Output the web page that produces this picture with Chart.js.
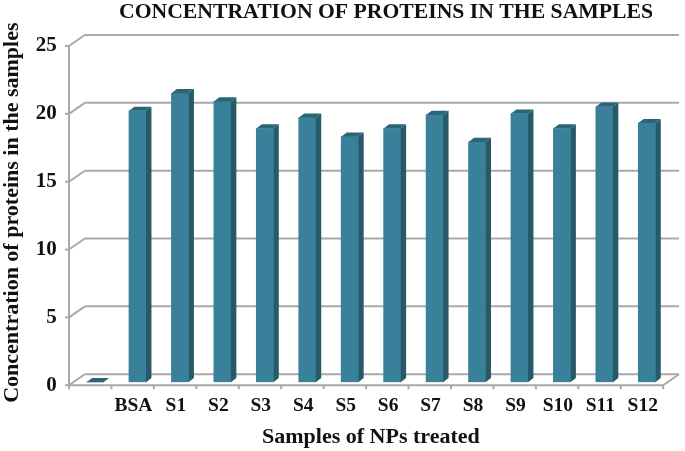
<!DOCTYPE html>
<html><head><meta charset="utf-8">
<style>html,body{margin:0;padding:0;background:#fff}#w{width:685px;height:451px}</style>
<script src="https://cdn.jsdelivr.net/npm/chart.js@4"></script></head>
<body><div id="w"><canvas id="c" width="685" height="451"></canvas></div>
<script>
const categories = ["", "BSA", "S1", "S2", "S3", "S4", "S5", "S6", "S7", "S8", "S9", "S10", "S11", "S12"];
const concentration = [0, 20, 21.3, 20.7, 18.7, 19.5, 18.1, 18.7, 19.7, 17.7, 19.8, 18.7, 20.3, 19.1];
const yTicks = [0, 5, 10, 15, 20, 25];
const titleText = "CONCENTRATION OF PROTEINS IN THE SAMPLES";
const xTitleText = "Samples of NPs treated";
const yTitleText = "Concentration of proteins in the samples";
const serif = "'Liberation Serif','Times New Roman',serif";
const FRONT = {dx:-4.8, dy:3}, BACK = {dx:11, dy:-8}, DEPTH = {dx:5.5, dy:-4.2};
const GRID = "#a9a9a9";

const depthPlugin = {
  id:"depth",
  afterLayout(chart){
    const t = chart.titleBlock;
    t.left += 52; t.right += 52; t.top -= 1; t.bottom -= 1;
  },
  beforeDatasetsDraw(chart){
    const {ctx, chartArea:a, scales:{x,y}} = chart;
    ctx.save();
    ctx.strokeStyle = GRID; ctx.lineWidth = 2; ctx.lineCap = "butt";
    const line = (x1,y1,x2,y2)=>{ctx.beginPath();ctx.moveTo(x1,y1);ctx.lineTo(x2,y2);ctx.stroke();};
    const L=a.left+FRONT.dx, R=a.right+FRONT.dx;
    const y0=y.getPixelForValue(0), yTop=y.getPixelForValue(25);
    line(L,yTop+FRONT.dy,L,y0+FRONT.dy+4);
    y.ticks.forEach(t=>{
      const p=y.getPixelForValue(t.value);
      line(L-4,p+FRONT.dy,L,p+FRONT.dy);
      line(L,p+FRONT.dy,a.left+BACK.dx,p+BACK.dy);
      line(a.left+BACK.dx,p+BACK.dy,a.right+BACK.dx,p+BACK.dy);
    });
    line(L,y0+FRONT.dy,R,y0+FRONT.dy);
    line(R,y0+FRONT.dy,a.right+BACK.dx,y0+BACK.dy);
    const step=(a.right-a.left)/categories.length;
    for(let i=1;i<=categories.length;i++){
      const px=x.getPixelForValue(i-1)+step/2+FRONT.dx;
      line(px,y0+FRONT.dy,px,y0+FRONT.dy+4);
    }
    ctx.restore();
  },
  afterDatasetsDraw(chart){
    const {ctx} = chart;
    const bars = chart.getDatasetMeta(0).data;
    ctx.save();
    bars.forEach(b=>{
      const l=b.x-b.width/2, r=b.x+b.width/2, top=b.y, base=b.base;
      ctx.fillStyle="#265a68";
      ctx.beginPath();ctx.moveTo(r,top);ctx.lineTo(r+DEPTH.dx,top+DEPTH.dy);ctx.lineTo(r+DEPTH.dx,base+DEPTH.dy);ctx.lineTo(r,base);ctx.closePath();ctx.fill();
      ctx.fillStyle="#2a6677";
      ctx.beginPath();ctx.moveTo(l,top);ctx.lineTo(l+DEPTH.dx,top+DEPTH.dy);ctx.lineTo(r+DEPTH.dx,top+DEPTH.dy);ctx.lineTo(r,top);ctx.closePath();ctx.fill();
    });
    ctx.restore();
  }
};

new Chart(document.getElementById("c"),{
  type:"bar",
  data:{labels:categories,datasets:[{data:concentration,backgroundColor:"#39819b",borderWidth:0,barThickness:17}]},
  plugins:[depthPlugin],
  options:{
    responsive:false,animation:false,
    layout:{padding:{left:0,right:17,top:0,bottom:0}},
    plugins:{
      legend:{display:false},tooltip:{enabled:false},
      title:{display:true,text:titleText,color:"#111",font:{family:serif,size:21.7,weight:"bold"},padding:{top:0,bottom:17}}
    },
    scales:{
      x:{
        grid:{display:false},border:{display:false},
        ticks:{color:"#111",font:{family:serif,size:19.5,weight:"bold"},labelOffset:-4,padding:4,maxRotation:0,autoSkip:false},
        title:{display:true,text:xTitleText,color:"#111",font:{family:serif,size:22,weight:"bold"},padding:{top:3,bottom:0}}
      },
      y:{
        min:0,max:25,
        afterFit(s){s.width=73.8;},
        grid:{display:false},border:{display:false},
        afterBuildTicks(s){s.ticks=yTicks.map(v=>({value:v}));},
        ticks:{color:"#111",font:{family:serif,size:21,weight:"bold"},padding:9,labelOffset:3},
        title:{display:true,text:yTitleText,color:"#111",font:{family:serif,size:22,weight:"bold"},padding:{top:-1,bottom:0}}
      }
    }
  }
});
</script></body></html>
